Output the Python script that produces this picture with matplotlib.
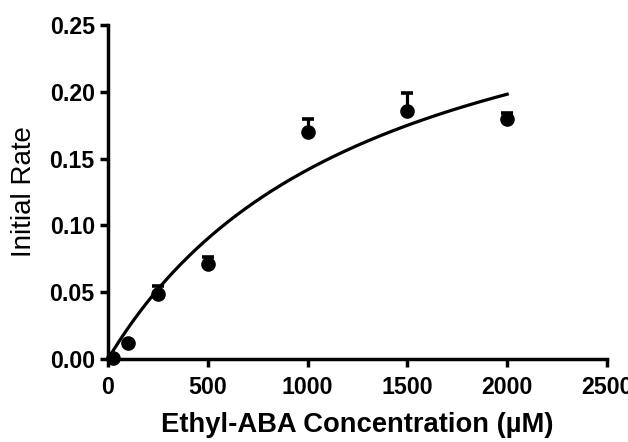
import numpy as np
import matplotlib
matplotlib.use("Agg")
import matplotlib.pyplot as plt

# Data
conc = [25, 100, 250, 500, 1000, 1500, 2000]
rate = [0.001, 0.012, 0.049, 0.071, 0.170, 0.186, 0.180]
err_up = [0.0, 0.0, 0.006, 0.005, 0.010, 0.013, 0.004]

# Michaelis-Menten fit parameters
vmax = 0.33
km = 1330.0
fit_max = 2000

xticks = [0, 500, 1000, 1500, 2000, 2500]
yticks = [0.00, 0.05, 0.10, 0.15, 0.20, 0.25]
ytick_labels = ["0.00", "0.05", "0.10", "0.15", "0.20", "0.25"]

plt.rcParams['font.family'] = ['Liberation Sans', 'DejaVu Sans']

fig = plt.figure(figsize=(6.28, 4.42), dpi=100)
ax = fig.add_axes([108/628, 1-359/442, (607-108)/628, (359-25)/442])

xf = np.linspace(0, fit_max, 300)
ax.plot(xf, vmax * xf / (km + xf), color='black', lw=2.3, zorder=2, clip_on=False)

ax.errorbar(conc, rate, yerr=[np.zeros(len(err_up)), err_up], fmt='o', color='black',
            ms=9.5, elinewidth=2.3, capsize=4.5, capthick=2.6, zorder=3, clip_on=False)

ax.set_xlim(0, 2500)
ax.set_ylim(0, 0.25)
ax.set_xticks(xticks)
ax.set_yticks(yticks)
ax.set_yticklabels(ytick_labels)

for s in ['top', 'right']:
    ax.spines[s].set_visible(False)
for s in ['left', 'bottom']:
    ax.spines[s].set_linewidth(2.5)
ax.tick_params(width=2.5, length=5.5, labelsize=16.7, pad=4)
ax.tick_params(axis='x', pad=7)
for lab in ax.get_xticklabels() + ax.get_yticklabels():
    lab.set_fontweight('bold')

ax.set_xlabel("Ethyl-ABA Concentration (\u00b5M)", fontsize=19.7, fontweight='bold', labelpad=9)
ax.set_ylabel("Initial Rate", fontsize=20, labelpad=9)

fig.savefig("out.png", dpi=100)
